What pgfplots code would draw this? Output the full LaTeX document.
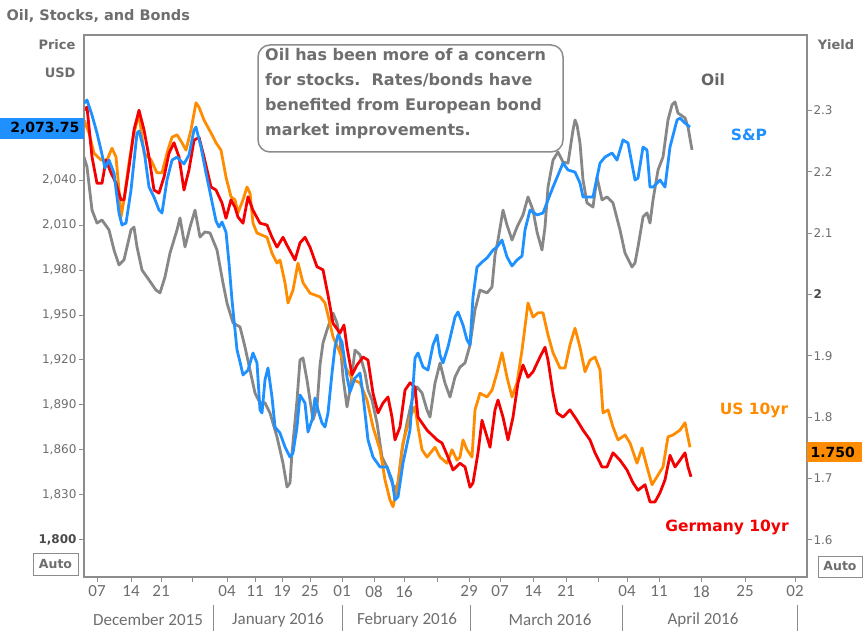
\documentclass[border=0pt]{standalone}
\usepackage{fontspec}
\setmainfont{DejaVu Sans}
\newfontfamily\carlito{Carlito}
\usepackage{pgfplots}
\pgfplotsset{compat=1.18}
\definecolor{spblue}{HTML}{1E90FF}
\definecolor{usorange}{HTML}{FF8C00}
\definecolor{dered}{HTML}{F50000}
\definecolor{oilgray}{HTML}{878787}
\definecolor{txtgray}{HTML}{6E6E6E}
\definecolor{darkgray2}{HTML}{4A4A4A}
\definecolor{framegray}{HTML}{8C8C8C}
\pgfplotsset{base/.style={at={(84pt,56pt)}, anchor=south west, scale only axis,
  width=723pt, height=542pt, xmin=84, xmax=807}}
\begin{document}
\begin{tikzpicture}[x=1pt,y=1pt]
\path[use as bounding box] (0,0) rectangle (866,633);

% Oil (hidden axis, USD per barrel)
\begin{axis}[base, hide axis, ymin=23.375, ymax=44.714]
\addplot[oilgray, line width=2.8pt, line join=round] coordinates {
(84,39.91)(87,39.52)(92,37.82)(97,37.31)(102,37.43)(109,37.04)(114,36.25)(119,35.66)(124,35.86)(131,37.04)(134,37.15)(137,36.37)(142,35.46)(149,35.07)(156,34.67)(160,34.56)(165,35.19)(170,36.13)(177,37.04)(180,37.51)(185,36.37)(190,37.15)(195,37.82)(200,36.76)(205,36.96)(210,36.92)(217,36.25)(223,34.95)(227,34.16)(233,33.38)(240,33.22)(245,32.43)(250,31.52)(255,30.62)(260,30.23)(265,30.23)(270,29.83)(277,28.89)(283,27.86)(287,26.92)(290,27.08)(292,28.26)(297,30.34)(300,31.92)(303,32.00)(307,31.13)(310,30.34)(313,29.56)(317,30.07)(320,31.72)(323,32.59)(327,33.10)(333,33.77)(337,33.38)(340,32.71)(343,31.25)(347,30.07)(350,30.74)(355,32.31)(360,32.12)(365,31.41)(368,30.74)(372,30.34)(377,29.44)(382,28.10)(387,27.71)(390,27.31)(395,26.80)(398,27.08)(402,28.38)(407,29.44)(412,30.34)(417,30.86)(422,30.62)(427,29.95)(430,29.67)(435,31.01)(440,31.80)(445,31.01)(450,30.46)(455,31.25)(460,31.64)(465,31.80)(470,32.51)(475,33.89)(480,34.67)(487,34.56)(492,34.79)(495,36.05)(498,36.64)(503,37.82)(507,37.23)(512,36.64)(517,37.15)(523,37.63)(528,38.34)(533,37.82)(537,36.96)(542,36.25)(545,37.15)(548,38.73)(553,39.79)(558,40.11)(563,39.71)(568,39.67)(573,40.97)(575,41.37)(577,41.17)(580,40.46)(583,39.01)(587,38.10)(593,37.94)(597,39.12)(602,38.22)(607,38.34)(613,38.10)(620,37.04)(625,36.13)(632,35.58)(635,35.74)(638,36.37)(643,37.55)(647,37.71)(650,37.31)(653,38.22)(658,39.40)(663,39.91)(668,41.37)(672,41.96)(675,42.08)(678,41.64)(685,41.45)(688,41.09)(692,40.19)};
\end{axis}

% Yields (right axis)
\begin{axis}[base, ymin=1.5397, ymax=2.4225, axis y line*=right, axis x line=none,
  axis line style={framegray, line width=1.5pt},
  ytick={1.6,1.7,1.8,1.9,2,2.1,2.2,2.3},
  yticklabels={1.6,1.7,1.8,1.9,{\textcolor{darkgray2}{\textbf{2}}},2.1,2.2,2.3},
  tick align=outside, major tick length=5pt, tick style={framegray, line width=1pt},
  yticklabel style={font=\fontsize{12}{12}\selectfont, text=txtgray, xshift=-2pt}]
\addplot[usorange, line width=2.8pt, line join=round] coordinates {
(84,2.284)(89,2.263)(94,2.230)(101,2.219)(107,2.219)(112,2.238)(116,2.224)(119,2.170)(121,2.126)(124,2.154)(129,2.214)(134,2.263)(139,2.295)(144,2.230)(151,2.219)(157,2.198)(162,2.198)(167,2.230)(172,2.256)(177,2.260)(182,2.247)(186,2.235)(191,2.268)(196,2.312)(199,2.305)(204,2.284)(211,2.263)(216,2.247)(221,2.235)(226,2.191)(231,2.159)(235,2.154)(238,2.133)(243,2.154)(247,2.175)(250,2.165)(253,2.116)(257,2.100)(267,2.093)(272,2.067)(277,2.051)(280,2.056)(285,2.019)(288,1.986)(293,2.007)(298,2.051)(303,2.019)(310,2.002)(320,1.996)(325,1.986)(328,1.966)(333,1.931)(340,1.905)(347,1.877)(353,1.861)(360,1.856)(367,1.828)(373,1.784)(380,1.747)(385,1.698)(390,1.665)(393,1.654)(398,1.693)(403,1.758)(410,1.800)(415,1.817)(418,1.784)(422,1.747)(427,1.735)(435,1.751)(440,1.735)(447,1.725)(452,1.747)(457,1.730)(460,1.735)(463,1.763)(467,1.747)(472,1.735)(475,1.812)(480,1.839)(487,1.833)(492,1.844)(497,1.872)(502,1.905)(507,1.865)(512,1.833)(517,1.856)(522,1.909)(528,1.986)(533,1.963)(538,1.970)(543,1.970)(548,1.934)(553,1.905)(560,1.880)(565,1.880)(570,1.918)(575,1.945)(580,1.914)(585,1.874)(590,1.893)(595,1.898)(600,1.877)(603,1.807)(608,1.812)(613,1.784)(618,1.763)(625,1.771)(630,1.758)(637,1.725)(642,1.750)(647,1.719)(652,1.690)(657,1.703)(663,1.719)(668,1.768)(673,1.771)(680,1.779)(685,1.791)(690,1.751)};
\addplot[dered, line width=2.8pt, line join=round] coordinates {
(84,2.300)(87,2.305)(92,2.224)(97,2.181)(102,2.181)(106,2.219)(111,2.198)(116,2.181)(121,2.154)(124,2.154)(129,2.207)(134,2.268)(139,2.300)(144,2.268)(149,2.224)(154,2.170)(159,2.165)(164,2.191)(169,2.230)(174,2.247)(179,2.224)(184,2.170)(189,2.203)(194,2.251)(199,2.256)(204,2.224)(211,2.175)(216,2.170)(222,2.149)(226,2.124)(231,2.154)(235,2.142)(238,2.126)(243,2.116)(248,2.159)(253,2.137)(260,2.116)(267,2.113)(272,2.093)(277,2.077)(283,2.093)(288,2.077)(295,2.056)(300,2.084)(305,2.093)(310,2.077)(317,2.045)(323,2.040)(328,1.999)(333,1.953)(340,1.937)(344,1.950)(347,1.914)(352,1.869)(357,1.885)(363,1.898)(368,1.893)(373,1.839)(378,1.807)(383,1.823)(388,1.833)(392,1.800)(395,1.763)(400,1.784)(405,1.844)(410,1.856)(415,1.849)(418,1.800)(427,1.779)(437,1.763)(442,1.758)(448,1.735)(453,1.714)(460,1.725)(465,1.719)(470,1.686)(473,1.693)(478,1.742)(482,1.795)(487,1.768)(490,1.751)(495,1.812)(498,1.828)(503,1.800)(508,1.763)(513,1.800)(518,1.856)(523,1.885)(528,1.865)(533,1.874)(540,1.898)(545,1.914)(548,1.893)(553,1.839)(557,1.807)(563,1.800)(570,1.812)(577,1.795)(583,1.779)(590,1.763)(595,1.742)(602,1.719)(607,1.719)(613,1.742)(620,1.730)(627,1.714)(633,1.693)(638,1.681)(645,1.690)(650,1.662)(655,1.662)(660,1.677)(665,1.698)(670,1.738)(675,1.719)(680,1.730)(685,1.742)(688,1.719)(691,1.703)};
\end{axis}

% S&P 500 (left axis, frame, dates)
\begin{axis}[base, ymin=1775.3, ymax=2136.7,
  axis line style={framegray, line width=1.5pt},
  tick pos=left, tick align=outside, major tick length=5pt,
  tick style={framegray, line width=1pt},
  ytick={1800,1830,1860,1890,1920,1950,1980,2010,2040,2070},
  yticklabels={{\textcolor{darkgray2}{\textbf{1,800}}},{1,830},{1,860},{1,890},{1,920},{1,950},{1,980},{2,010},{2,040},{}},
  yticklabel style={font=\fontsize{12}{12}\selectfont, text=txtgray, xshift=1pt},
  xtick={97,131,161,192,227,255,282,310,342,374,404,437,469,500,533,566,598,627,659,701,745,795},
  xticklabels={07,14,21,,04,11,19,25,01,08,16,,29,07,14,21,,04,11,18,25,02},
  xticklabel style={font=\carlito\fontsize{17}{17}\selectfont, text=txtgray}]
\addplot[spblue, line width=2.8pt, line join=round] coordinates {
(84,2091.3)(87,2093.3)(92,2083.3)(97,2071.3)(101,2060)(105,2048)(109,2053.3)(114,2044.7)(119,2018)(122,2010)(126,2011.3)(131,2033.3)(137,2071.3)(139,2072.7)(144,2060)(149,2035.3)(154,2028.7)(159,2020)(162,2018)(167,2040)(172,2053.3)(177,2055.3)(184,2050.7)(189,2056.7)(194,2073.3)(196,2075.3)(201,2062)(206,2044.7)(211,2028.7)(216,2012.7)(219,2008.7)(222,2012)(226,2005.3)(229,1984.7)(232,1960)(237,1926.7)(240,1918.7)(243,1910)(248,1913.3)(253,1924.7)(257,1918)(260,1886.7)(262,1884.7)(265,1906.7)(268,1914.7)(272,1895.3)(275,1875.3)(280,1871.3)(285,1862)(290,1855.3)(293,1858)(297,1875.3)(300,1896.7)(305,1891.3)(308,1872)(312,1880)(315,1894.7)(318,1886.7)(322,1878)(325,1875.3)(328,1884.7)(332,1911.3)(335,1928.7)(338,1936.7)(342,1932)(347,1908.7)(350,1898.7)(355,1908)(360,1911.3)(363,1896.7)(368,1866.7)(373,1855.3)(380,1848.7)(387,1848.7)(392,1840)(395,1826.7)(398,1828.7)(403,1851.3)(410,1873.3)(415,1921.3)(418,1924.7)(423,1915.3)(428,1913.3)(433,1930)(437,1936.7)(440,1923.3)(443,1918)(448,1928.7)(455,1948.7)(458,1952)(463,1943.3)(467,1933.3)(470,1930)(473,1962)(477,1982)(482,1985.3)(487,1988)(493,1993.3)(497,1995.3)(502,2000)(507,1988.7)(512,1982.7)(517,1986.7)(522,1989.3)(525,2006.7)(530,2020)(537,2016.7)(543,2018)(548,2026.7)(553,2035.3)(558,2043.3)(563,2051.3)(568,2046.7)(575,2045.3)(580,2038)(583,2028.7)(593,2028.7)(600,2051.3)(605,2055.3)(612,2058)(617,2053.3)(623,2066.7)(628,2064.7)(635,2040)(638,2041.3)(643,2062)(647,2060)(650,2035.3)(653,2035.3)(660,2040)(665,2035.3)(670,2062)(677,2080)(680,2081.3)(685,2078)(690,2075.3)};
\end{axis}

% titles and labels
\node[anchor=west, text=txtgray, font=\bfseries\fontsize{14.5}{14.5}\selectfont] at (3,617) {Oil, Stocks, and Bonds};
\node[anchor=east, text=txtgray, font=\bfseries\fontsize{13}{13}\selectfont] at (79,588) {Price};
\node[anchor=east, text=txtgray, font=\bfseries\fontsize{13}{13}\selectfont] at (79,560) {USD};
\node[text=txtgray, font=\bfseries\fontsize{13}{13}\selectfont] at (836,588) {Yield};

% value boxes
\fill[spblue] (0,494) rectangle (84,515);
\node[anchor=east, font=\bfseries\fontsize{14}{14}\selectfont] at (83,504.5) {2,073.75};
\fill[usorange] (807,171) rectangle (862,191);
\node[anchor=west, font=\bfseries\fontsize{14}{14}\selectfont] at (807,181) {1.750};

% Auto boxes
\draw[framegray, line width=1pt, fill=white] (33,58) rectangle (78,80);
\node[text=txtgray, font=\bfseries\fontsize{12.5}{12.5}\selectfont] at (55.5,69) {Auto};
\draw[framegray, line width=1pt, fill=white] (818,56) rectangle (862,77);
\node[text=txtgray, font=\bfseries\fontsize{12.5}{12.5}\selectfont] at (840,66.5) {Auto};

% annotation
\draw[framegray, line width=1.5pt, rounded corners=12pt, fill=white] (258,481) rectangle (563,588);
\node[anchor=north west, align=left, text=darkgray2!80, inner sep=0pt,
  font=\bfseries\fontsize{16}{25}\selectfont] at (265,585)
  {Oil has been more of a concern\\for stocks.\ \ Rates/bonds have\\benefited from European bond\\market improvements.};

% series labels
\node[text=darkgray2!85, font=\bfseries\fontsize{15.5}{15.5}\selectfont] at (713,553) {Oil};
\node[text=spblue, font=\bfseries\fontsize{15.5}{15.5}\selectfont] at (749,498) {S\&P};
\node[text=usorange, font=\bfseries\fontsize{15.5}{15.5}\selectfont] at (754,223) {US 10yr};
\node[text=dered, font=\bfseries\fontsize{15.5}{15.5}\selectfont] at (727,106) {Germany 10yr};

% month labels
\foreach \xx/\mm in {148/December 2015, 278/January 2016, 407/February 2016, 550/March 2016, 703/April 2016}
  \node[text=txtgray, font=\carlito\fontsize{17}{17}\selectfont] at (\xx,13) {\mm};
\foreach \xx in {213,342,470,622,797}
  \draw[framegray, line width=1pt] (\xx,28) -- (\xx,2);
\end{tikzpicture}
\end{document}
